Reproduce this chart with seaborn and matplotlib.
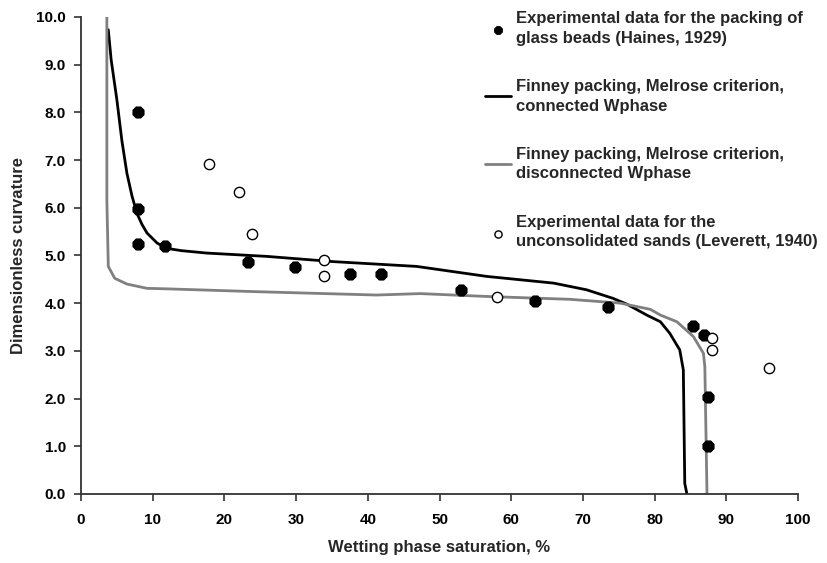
import numpy as np
import pandas as pd
import matplotlib
matplotlib.use("Agg")
import matplotlib.pyplot as plt
import seaborn as sns

# Haines (1929) glass beads
haines_x = [8.0, 8.0, 8.0, 11.7, 23.3, 29.9, 37.5, 41.9, 53.0, 63.3, 73.5, 85.4, 86.9, 87.5, 87.5]
haines_y = [8.0, 5.98, 5.24, 5.19, 4.87, 4.75, 4.62, 4.61, 4.27, 4.04, 3.91, 3.52, 3.33, 2.03, 1.0]

# Leverett (1940) unconsolidated sands
lev_x = [17.9, 22.0, 23.9, 33.9, 33.9, 58.0, 88.0, 88.0, 96.0]
lev_y = [6.92, 6.32, 5.45, 4.91, 4.57, 4.13, 3.26, 3.02, 2.64]

# Finney packing, Melrose criterion, connected Wphase
conn_x = [3.8, 4.2, 5.0, 5.7, 6.4, 7.1, 7.8, 8.5, 9.2, 10.6, 11.9, 14.0, 17.5, 25.9, 35.2, 46.8,
          56.6, 65.9, 70.5, 74.2, 76.1, 78.9, 80.8, 82.1, 83.5, 84.0, 84.2, 84.5]
conn_y = [9.73, 9.1, 8.26, 7.4, 6.72, 6.25, 5.88, 5.65, 5.47, 5.26, 5.15, 5.1, 5.05, 4.98, 4.87, 4.77,
          4.56, 4.42, 4.28, 4.1, 3.98, 3.75, 3.61, 3.37, 3.02, 2.6, 0.22, 0.0]

# Finney packing, Melrose criterion, disconnected Wphase
disc_x = [3.6, 3.6, 3.8, 4.7, 6.4, 9.2, 11.9, 24.5, 41.2, 47.3, 56.6, 68.2, 75.2, 79.4, 80.8,
          83.1, 85.4, 86.8, 87.0, 87.3]
disc_y = [10.0, 6.16, 4.77, 4.52, 4.4, 4.31, 4.3, 4.24, 4.17, 4.2, 4.14, 4.08, 4.0, 3.87, 3.75,
          3.61, 3.3, 2.95, 2.67, 0.0]

labels = ["Experimental data for the packing of\nglass beads (Haines, 1929)",
          "Finney packing, Melrose criterion,\nconnected Wphase",
          "Finney packing, Melrose criterion,\ndisconnected Wphase",
          "Experimental data for the\nunconsolidated sands (Leverett, 1940)"]

sns.set_style("ticks")
plt.rcParams['font.family'] = ['Liberation Sans', 'DejaVu Sans']
plt.rcParams['font.weight'] = 'bold'

fig = plt.figure(figsize=(8.27, 5.63), dpi=100)
ax = fig.add_axes([0.098, 0.1226, 0.867, 0.8474])

conn = pd.DataFrame({'x': conn_x, 'y': conn_y})
disc = pd.DataFrame({'x': disc_x, 'y': disc_y})
sns.lineplot(data=conn, x='x', y='y', sort=False, estimator=None, color='black', lw=2, ax=ax, label=labels[1])
sns.lineplot(data=disc, x='x', y='y', sort=False, estimator=None, color='#808080', lw=2, ax=ax, label=labels[2])
sns.scatterplot(x=haines_x, y=haines_y, color='black', marker='8', s=75, edgecolor='black', ax=ax, label=labels[0], zorder=3)
sns.scatterplot(x=lev_x, y=lev_y, color='white', marker='o', s=55, edgecolor='black', linewidth=1, ax=ax, label=labels[3], zorder=3)

ax.set_xlim(0, 100)
ax.set_ylim(0, 10)
ax.set_xticks(np.arange(0, 101, 10))
ax.set_yticks(np.arange(0, 10.1, 1))
ax.set_yticklabels([f"{v:.1f}" for v in np.arange(0, 10.1, 1)])
ax.tick_params(labelsize=11, length=5, width=1.2, colors='#333333', labelcolor='black')
ax.tick_params(axis='x', pad=9)
ax.tick_params(axis='y', pad=6)
for lab in ax.get_xticklabels() + ax.get_yticklabels():
    lab.set_fontweight('bold')
ax.set_xlabel("Wetting phase saturation, %", fontsize=12, fontweight='bold', labelpad=9)
ax.set_ylabel("Dimensionless curvature", fontsize=12, fontweight='bold', labelpad=7)
sns.despine(ax=ax)
for s in ['left', 'bottom']:
    ax.spines[s].set_linewidth(1.3)
    ax.spines[s].set_color('#333333')

handles, labs = ax.get_legend_handles_labels()
order = [labs.index(l) for l in labels]
leg = ax.legend([handles[i] for i in order], [labs[i] for i in order],
                loc='upper left', bbox_to_anchor=(0.568, 1.007), bbox_transform=fig.transFigure,
                frameon=False, fontsize=12, labelspacing=2.0, handlelength=1.55, handletextpad=0.35,
                markerscale=0.7)
for t in leg.get_texts():
    t.set_linespacing(1.38)
    t.set_fontweight('bold')

fig.savefig("out.png", dpi=100)
